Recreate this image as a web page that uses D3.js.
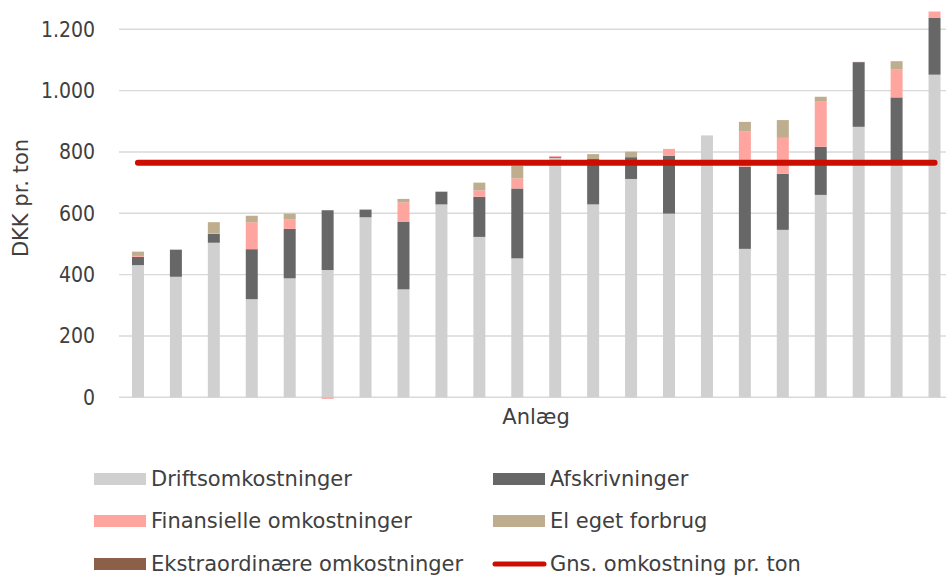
<!DOCTYPE html>
<html lang="da">
<head>
<meta charset="utf-8">
<title>Omkostninger pr. ton</title>
<script src="https://cdn.jsdelivr.net/npm/d3@7"></script>
<style>
    body { margin: 0; background: #fff; }
    svg { display: block; }
    text {
        font-family: "DejaVu Sans", sans-serif;
        fill: #404040;
        font-size: 21px;
    }
    .ticks text {
        font-family: "DejaVu Sans Condensed", "DejaVu Sans", sans-serif;
        font-stretch: condensed;
    }
    .grid line { stroke: #d9d9d9; stroke-width: 1.4px; }
</style>
</head>
<body>
<svg width="946" height="577"></svg>
<script>
    // one entry per anlæg, sorted by total cost
    const anlaeg = d3.range(1, 23)
    const drift = [431, 393, 504, 320, 388, 415, 587, 352, 629, 523, 453, 781, 629, 712, 599, 854, 484, 546, 660, 882, 765, 1052]
    const afskrivninger = [27, 88, 29, 163, 161, 195, 25, 221, 41, 131, 228, 3, 148, 71, 189, 0, 268, 183, 157, 211, 213, 186]
    const finansielle = [3, 2, 1, 88, 32, -5, 2, 63, 2, 21, 33, 3, 0, 0, 22, 0, 116, 117, 149, 1, 92, 20]
    const elForbrug = [14, 0, 37, 21, 18, 0, 0, 11, 0, 25, 41, 0, 16, 18, 0, 0, 30, 58, 14, 0, 26, 0]
    const ekstraordinaere = new Array(22).fill(0)
    const gnsOmkostning = 765
    const yTicks = [0, 200, 400, 600, 800, 1000, 1200]

    const seriesNames = ["Driftsomkostninger", "Afskrivninger", "Finansielle omkostninger", "El eget forbrug", "Ekstraordinære omkostninger"]
    const seriesColors = ["#d0d0d0", "#676767", "#ffa5a0", "#bead8e", "#8c5f48"]
    const lineName = "Gns. omkostning pr. ton"

    const table = anlaeg.map((a, i) => ({
        anlaeg: a,
        "Driftsomkostninger": drift[i],
        "Afskrivninger": afskrivninger[i],
        "Finansielle omkostninger": finansielle[i],
        "El eget forbrug": elForbrug[i],
        "Ekstraordinære omkostninger": ekstraordinaere[i]
    }))

    const svg = d3.select("svg")

    const x = d3.scaleBand()
        .domain(anlaeg)
        .range([119, 953.5])
        .paddingInner(0.684)
        .paddingOuter(0.342)

    const y = d3.scaleLinear()
        .domain([0, 1200])
        .range([397.3, 29.3])

    // gridlines
    svg.append("g").attr("class", "grid")
        .selectAll("line")
        .data(yTicks)
        .join("line")
        .attr("x1", 119)
        .attr("x2", 946)
        .attr("y1", d => y(d))
        .attr("y2", d => y(d))

    // y axis labels
    const fmt = d3.formatLocale({decimal: ",", thousands: ".", grouping: [3], currency: ["", " kr."]}).format(",")
    svg.append("g").attr("class", "ticks")
        .selectAll("text")
        .data(yTicks)
        .join("text")
        .attr("x", 95)
        .attr("y", d => y(d))
        .attr("dy", "0.35em")
        .attr("text-anchor", "end")
        .text(d => fmt(d))

    svg.append("text")
        .attr("transform", "translate(28,198) rotate(-90)")
        .attr("text-anchor", "middle")
        .text("DKK pr. ton")

    svg.append("text")
        .attr("x", 536)
        .attr("y", 417)
        .attr("dy", "0.35em")
        .attr("text-anchor", "middle")
        .text("Anlæg")

    // stacked bars
    const stack = d3.stack()
        .keys(seriesNames)
        .offset(d3.stackOffsetDiverging)
    const stacked = stack(table)

    svg.append("g")
        .selectAll("g")
        .data(stacked)
        .join("g")
        .attr("fill", (d, i) => seriesColors[i])
        .selectAll("rect")
        .data(d => d)
        .join("rect")
        .attr("x", d => x(d.data.anlaeg))
        .attr("width", x.bandwidth())
        .attr("y", d => y(Math.max(d[0], d[1])))
        .attr("height", d => Math.abs(y(d[0]) - y(d[1])))

    // average line
    svg.append("line")
        .attr("x1", x(anlaeg[0]) + x.bandwidth() / 2)
        .attr("x2", x(anlaeg[anlaeg.length - 1]) + x.bandwidth() / 2)
        .attr("y1", y(gnsOmkostning))
        .attr("y2", y(gnsOmkostning))
        .attr("stroke", "#cc0e00")
        .attr("stroke-width", 6)
        .attr("stroke-linecap", "round")

    // legend
    const legendItems = [
        {name: seriesNames[0], color: seriesColors[0], col: 0, row: 0},
        {name: seriesNames[1], color: seriesColors[1], col: 1, row: 0},
        {name: seriesNames[2], color: seriesColors[2], col: 0, row: 1},
        {name: seriesNames[3], color: seriesColors[3], col: 1, row: 1},
        {name: seriesNames[4], color: seriesColors[4], col: 0, row: 2},
        {name: lineName, color: "#cc0e00", col: 1, row: 2, line: true}
    ]
    const colX = [94, 493]
    const rowY = [479, 521, 564]

    const legend = svg.append("g")
        .selectAll("g")
        .data(legendItems)
        .join("g")
        .attr("transform", d => `translate(${colX[d.col]},${rowY[d.row]})`)

    legend.filter(d => !d.line).append("rect")
        .attr("x", 0)
        .attr("y", -6)
        .attr("width", 52)
        .attr("height", 12)
        .attr("fill", d => d.color)

    legend.filter(d => d.line).append("line")
        .attr("x1", 2)
        .attr("x2", 51)
        .attr("stroke", d => d.color)
        .attr("stroke-width", 5)
        .attr("stroke-linecap", "round")

    legend.append("text")
        .attr("x", 57)
        .attr("dy", "0.35em")
        .text(d => d.name)
</script>
</body>
</html>
